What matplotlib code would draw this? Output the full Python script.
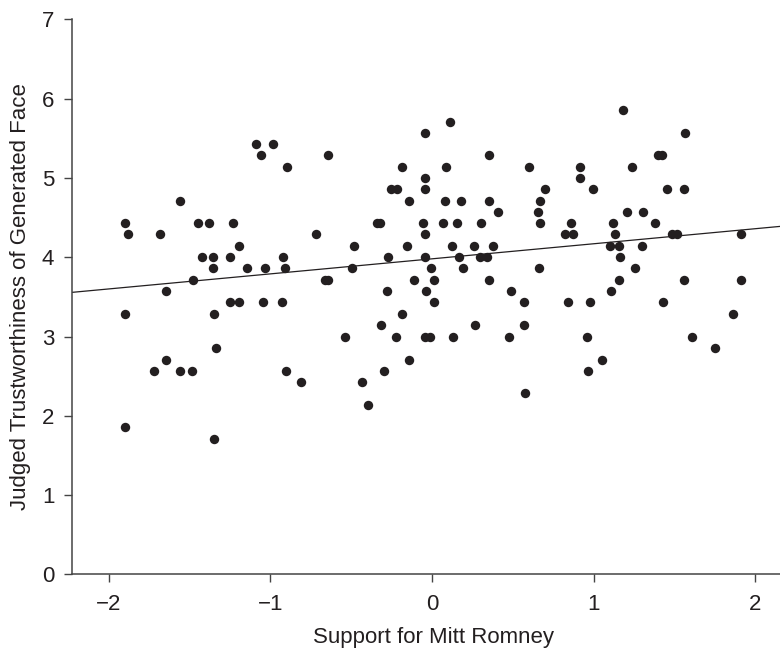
import matplotlib
matplotlib.use("Agg")
import matplotlib.pyplot as plt
from matplotlib import font_manager
import numpy as np

# Support for Mitt Romney (x) and judged trustworthiness (y)
support = [
    -1.090, -0.985, -1.056, -0.897, -1.558, -1.897, -1.880, -1.684, -1.449, -1.381,
    -1.231, -1.194, -1.420, -1.356, -1.251, -0.919, -1.352, -1.142, -1.033, -0.907,
    -1.478, -1.647, -1.901, -1.348, -1.249, -1.194, -1.043, -0.926, -1.336, -1.647,
    -1.721, -1.558, -1.482, -0.901, -0.810, -1.901, -1.350,
    0.113, -0.043, -0.643, 0.350, -0.187, 0.087, 0.602, -0.043, -0.256, -0.219,
    -0.043, -0.144, 0.080, 0.179, 0.355, 0.410, -0.338, -0.322, -0.056, 0.070,
    0.157, 0.301, -0.719, -0.041, -0.484, -0.156, 0.124, 0.262, 0.379, -0.270,
    -0.043, 0.165, 0.297, 0.338, -0.493, -0.008, 0.190, -0.662, -0.641, -0.111,
    0.012, 0.353, -0.276, -0.037, 0.487, 0.012, 0.567, -0.187, -0.315, 0.266,
    0.571, -0.536, -0.223, -0.043, -0.012, 0.130, 0.474, -0.140, -0.299, -0.435,
    0.575, -0.396,
    1.179, 1.567, 1.400, 1.420, 0.913, 1.235, 0.913, 0.699, 0.994, 1.455,
    1.556, 0.670, 0.654, 1.206, 1.305, 0.670, 0.858, 1.122, 1.379, 0.820,
    0.874, 1.134, 1.482, 1.513, 1.911, 1.101, 1.159, 1.301, 1.164, 0.662,
    1.254, 1.155, 1.560, 1.913, 1.109, 0.839, 0.979, 1.431, 1.861, 0.961,
    1.610, 1.752, 1.049, 0.964,
]
trust = [
    5.43, 5.43, 5.29, 5.14, 4.71, 4.43, 4.29, 4.29, 4.43, 4.43,
    4.43, 4.14, 4.00, 4.00, 4.00, 4.00, 3.86, 3.86, 3.86, 3.86,
    3.71, 3.57, 3.29, 3.29, 3.43, 3.43, 3.43, 3.43, 2.86, 2.71,
    2.57, 2.57, 2.57, 2.57, 2.43, 1.86, 1.71,
    5.71, 5.57, 5.29, 5.29, 5.14, 5.14, 5.14, 5.00, 4.86, 4.86,
    4.86, 4.71, 4.71, 4.71, 4.71, 4.57, 4.43, 4.43, 4.43, 4.43,
    4.43, 4.43, 4.29, 4.29, 4.14, 4.14, 4.14, 4.14, 4.14, 4.00,
    4.00, 4.00, 4.00, 4.00, 3.86, 3.86, 3.86, 3.71, 3.71, 3.71,
    3.71, 3.71, 3.57, 3.57, 3.57, 3.43, 3.43, 3.29, 3.14, 3.14,
    3.14, 3.00, 3.00, 3.00, 3.00, 3.00, 3.00, 2.71, 2.57, 2.43,
    2.29, 2.14,
    5.86, 5.57, 5.29, 5.29, 5.14, 5.14, 5.00, 4.86, 4.86, 4.86,
    4.86, 4.71, 4.57, 4.57, 4.57, 4.43, 4.43, 4.43, 4.43, 4.29,
    4.29, 4.29, 4.29, 4.29, 4.29, 4.14, 4.14, 4.14, 4.00, 3.86,
    3.86, 3.71, 3.71, 3.71, 3.57, 3.43, 3.43, 3.43, 3.29, 3.00,
    3.00, 2.86, 2.71, 2.57,
]

# regression line
fit_intercept = 3.98
fit_slope = 0.19

x_ticks = [-2, -1, 0, 1, 2]
x_tick_labels = ["\u22122", "\u22121", "0", "1", "2"]
y_ticks = [0, 1, 2, 3, 4, 5, 6, 7]

installed = {f.name for f in font_manager.fontManager.ttflist}
if 'Liberation Sans Narrow' in installed:
    main_font = 'Liberation Sans Narrow'
    fs = 18
else:
    main_font = 'Liberation Sans'
    fs = 16
plt.rcParams['font.family'] = [main_font, 'DejaVu Sans']

fig = plt.figure(figsize=(7.8, 6.48), dpi=100)
ax = fig.add_axes([0.0928, 0.1136, 0.9072, 0.8565])

dot = '#231f20'
ax.scatter(support, trust, s=46, color=dot, linewidths=0, zorder=3)

xl = np.array([-2.224, 2.152])
ax.plot(xl, fit_intercept + fit_slope * xl, color=dot, lw=0.9, zorder=2)

ax.set_xlim(-2.224, 2.152)
ax.set_ylim(0, 7)
ax.set_xticks(x_ticks)
ax.set_xticklabels(x_tick_labels)
ax.set_yticks(y_ticks)

for s in ['top', 'right']:
    ax.spines[s].set_visible(False)
for s in ['left', 'bottom']:
    ax.spines[s].set_color('#444444')
    ax.spines[s].set_linewidth(1.1)

ax.tick_params(axis='both', direction='out', length=6, width=1.0, color='#444444',
               labelsize=fs, labelcolor='#231f20')
ax.tick_params(axis='y', pad=7)
ax.tick_params(axis='x', pad=8)

ax.set_xlabel('Support for Mitt Romney', fontsize=fs, color='#231f20')
ax.xaxis.set_label_coords(0.51, -0.095)
ax.set_ylabel('Judged Trustworthiness of Generated Face', fontsize=fs, color='#231f20', labelpad=8)

fig.savefig('out.png', dpi=100)
